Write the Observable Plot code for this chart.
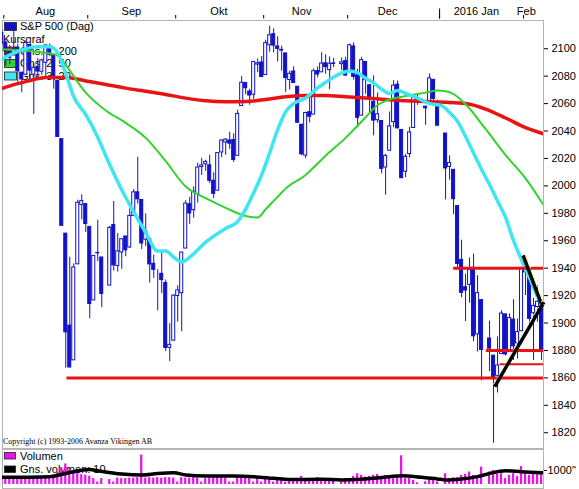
<!DOCTYPE html>
<html><head><meta charset="utf-8">
<script src="https://cdn.jsdelivr.net/npm/d3@7"></script>
<script src="https://cdn.jsdelivr.net/npm/@observablehq/plot@0.6"></script>
<style>
body{margin:0;background:#fff;}
#root{position:relative;width:579px;height:489px;overflow:hidden;background:#fff;}
#root svg{position:absolute;left:0;}
</style></head><body><div id="root"></div>
<script>
// ---- S&P 500 daily candles ----
const dates = [
"2015-07-31",
"2015-08-03","2015-08-04","2015-08-05","2015-08-06","2015-08-07",
"2015-08-10","2015-08-11","2015-08-12","2015-08-13","2015-08-14",
"2015-08-17","2015-08-18","2015-08-19","2015-08-20","2015-08-21",
"2015-08-24","2015-08-25","2015-08-26","2015-08-27","2015-08-28",
"2015-08-31","2015-09-01","2015-09-02","2015-09-03","2015-09-04",
"2015-09-08","2015-09-09","2015-09-10","2015-09-11",
"2015-09-14","2015-09-15","2015-09-16","2015-09-17","2015-09-18",
"2015-09-21","2015-09-22","2015-09-23","2015-09-24","2015-09-25",
"2015-09-28","2015-09-29","2015-09-30","2015-10-01","2015-10-02",
"2015-10-05","2015-10-06","2015-10-07","2015-10-08","2015-10-09",
"2015-10-12","2015-10-13","2015-10-14","2015-10-15","2015-10-16",
"2015-10-19","2015-10-20","2015-10-21","2015-10-22","2015-10-23",
"2015-10-26","2015-10-27","2015-10-28","2015-10-29","2015-10-30",
"2015-11-02","2015-11-03","2015-11-04","2015-11-05","2015-11-06",
"2015-11-09","2015-11-10","2015-11-11","2015-11-12","2015-11-13",
"2015-11-16","2015-11-17","2015-11-18","2015-11-19","2015-11-20",
"2015-11-23","2015-11-24","2015-11-25","2015-11-27",
"2015-11-30","2015-12-01","2015-12-02","2015-12-03","2015-12-04",
"2015-12-07","2015-12-08","2015-12-09","2015-12-10","2015-12-11",
"2015-12-14","2015-12-15","2015-12-16","2015-12-17","2015-12-18",
"2015-12-21","2015-12-22","2015-12-23","2015-12-24",
"2015-12-28","2015-12-29","2015-12-30","2015-12-31",
"2016-01-04","2016-01-05","2016-01-06","2016-01-07","2016-01-08",
"2016-01-11","2016-01-12","2016-01-13","2016-01-14","2016-01-15",
"2016-01-19","2016-01-20","2016-01-21","2016-01-22",
"2016-01-25","2016-01-26","2016-01-27","2016-01-28","2016-01-29",
"2016-02-01","2016-02-02","2016-02-03","2016-02-04","2016-02-05"];

const open = [
2111.6,
2104.5,2097.7,2095.3,2100.8,2082.6,
2081.0,2102.7,2081.1,2086.2,2083.2,
2089.7,2102.0,2095.7,2076.6,2034.1,
1965.2,1898.1,1872.8,1942.8,1986.1,
1986.7,1970.1,1916.5,1950.8,1947.8,
1927.3,1971.5,1941.6,1951.5,
1963.1,1955.1,1978.0,1995.3,1989.7,
1960.8,1961.4,1943.2,1932.2,1935.9,
1929.2,1881.9,1887.1,1919.7,1921.8,
1954.3,1986.6,1982.3,1994.0,2013.7,
2015.7,2015.0,2003.7,1996.5,2024.4,
2031.7,2033.1,2033.5,2021.9,2058.2,
2075.1,2068.8,2066.5,2088.4,2090.0,
2080.8,2102.6,2110.6,2101.7,2098.6,
2096.6,2077.2,2083.4,2072.3,2044.6,
2022.1,2053.7,2052.0,2083.7,2082.8,
2089.4,2084.4,2089.3,2088.8,
2091.0,2082.9,2101.7,2080.7,2051.2,
2090.4,2073.4,2061.2,2047.9,2047.3,
2013.4,2025.6,2046.5,2073.8,2040.8,
2010.3,2023.2,2042.2,2063.5,
2057.8,2060.5,2077.3,2060.6,
2038.2,2013.8,2011.7,1985.3,1946.0,
1926.1,1927.8,1940.3,1891.7,1916.7,
1888.7,1876.2,1861.5,1877.4,
1906.3,1878.8,1902.5,1885.2,1894.0,
1936.9,1935.3,1907.1,1911.7,1913.1];

const high = [
2114.2,
2105.7,2102.5,2112.7,2103.3,2082.6,
2105.4,2102.7,2089.1,2092.9,2092.5,
2102.9,2103.5,2096.2,2076.6,2034.1,
1965.2,1948.0,1943.1,1989.6,1993.5,
1986.7,1970.1,1948.9,1975.0,1947.8,
1970.4,1988.6,1965.3,1961.1,
1963.1,1983.2,1997.3,2020.9,1989.7,
1979.6,1961.4,1949.5,1938.9,1952.9,
1931.4,1899.5,1920.5,1927.2,1951.4,
1989.2,1991.6,1999.3,2016.5,2020.1,
2018.7,2022.3,2009.6,2024.2,2033.5,
2034.5,2039.1,2038.0,2055.2,2079.7,
2075.1,2070.4,2090.4,2092.5,2094.3,
2106.2,2116.5,2114.6,2108.8,2101.9,
2096.6,2083.7,2086.9,2072.3,2044.6,
2053.2,2066.7,2085.3,2086.7,2097.1,
2095.6,2094.1,2093.0,2093.3,
2093.8,2103.4,2104.3,2085.0,2093.8,
2090.4,2073.9,2080.3,2067.7,2047.3,
2022.9,2053.9,2076.7,2076.4,2040.8,
2022.9,2042.7,2064.7,2067.4,
2057.8,2081.6,2077.3,2062.5,
2038.2,2021.9,2011.7,1985.3,1960.4,
1935.7,1947.4,1950.3,1934.5,1916.7,
1901.4,1876.2,1889.9,1908.9,
1906.3,1906.7,1917.0,1903.0,1940.2,
1947.2,1935.3,1918.0,1927.4,1913.1];

const low = [
2102.1,
2087.3,2088.6,2095.3,2075.5,2067.9,
2081.0,2076.5,2052.1,2078.3,2080.6,
2079.3,2094.1,2070.5,2035.7,1970.9,
1867.0,1867.1,1872.8,1942.8,1975.2,
1966.0,1903.1,1916.5,1944.7,1911.2,
1927.3,1937.9,1937.2,1939.2,
1948.3,1954.3,1977.9,1986.7,1953.5,
1955.8,1929.2,1932.6,1908.9,1921.5,
1879.2,1871.9,1887.1,1900.7,1893.7,
1954.3,1972.0,1976.4,1987.5,2007.6,
2010.6,2001.8,1990.7,1996.5,2020.5,
2022.3,2026.6,2017.2,2021.9,2058.2,
2066.5,2058.8,2063.1,2082.6,2079.3,
2080.8,2097.5,2097.0,2090.4,2083.7,
2068.2,2069.9,2074.9,2045.7,2022.0,
2019.9,2045.9,2052.0,2078.8,2082.8,
2081.4,2070.3,2086.3,2084.1,
2080.4,2082.9,2077.1,2042.4,2051.2,
2066.8,2052.3,2036.5,2045.7,2008.8,
1993.3,2025.6,2042.4,2041.7,2005.3,
2005.9,2020.5,2042.2,2058.7,
2044.2,2060.5,2062.0,2043.6,
1989.7,2004.2,1979.1,1938.8,1918.5,
1901.1,1914.4,1886.4,1878.9,1857.8,
1864.6,1812.3,1849.0,1877.4,
1876.0,1878.8,1872.7,1873.7,1894.0,
1920.0,1897.3,1872.7,1900.5,1872.7];

const close = [
2103.8,
2098.0,2093.3,2099.8,2083.6,2077.6,
2104.2,2084.1,2086.1,2083.4,2091.5,
2102.4,2096.9,2079.6,2035.7,1970.9,
1893.2,1867.6,1940.5,1987.7,1988.9,
1972.2,1913.9,1948.9,1951.1,1921.2,
1969.4,1942.0,1952.3,1961.1,
1953.0,1978.1,1995.3,1990.2,1958.0,
1967.0,1942.7,1938.8,1932.2,1931.3,
1881.8,1884.1,1920.0,1923.8,1951.4,
1987.1,1979.9,1995.8,2013.4,2014.9,
2017.5,2003.7,1994.2,2023.9,2033.1,
2033.7,2030.8,2018.9,2052.5,2075.2,
2071.2,2065.9,2090.4,2089.4,2079.4,
2104.1,2109.8,2102.3,2099.9,2099.2,
2078.6,2081.7,2075.0,2046.0,2023.0,
2053.2,2050.4,2083.6,2081.2,2089.2,
2086.6,2089.1,2088.9,2090.1,
2080.4,2102.6,2079.5,2049.6,2091.7,
2077.1,2063.6,2047.6,2052.2,2012.4,
2021.9,2043.4,2073.1,2041.9,2005.6,
2021.2,2039.0,2064.3,2061.0,
2056.5,2078.4,2063.4,2043.9,
2012.7,2016.7,1990.3,1943.1,1922.0,
1923.7,1938.7,1890.3,1921.8,1880.3,
1881.3,1859.3,1869.0,1906.9,
1877.1,1903.6,1883.0,1893.4,1940.2,
1939.4,1903.0,1912.5,1915.5,1880.1];

const volume = [
420,
420,455,455,455,420,
420,455,490,420,420,
420,420,560,875,1190,
1470,1120,980,875,700,
665,595,420,175,420,
350,175,455,420,
420,455,455,490,2100,
455,490,455,490,455,
490,490,455,175,490,
455,455,490,455,175,
420,455,490,490,490,
455,175,175,490,490,
420,455,175,455,175,
455,455,175,420,455,
175,300,300,420,580,
420,350,300,490,350,
300,350,260,175,
420,350,580,770,650,
540,580,650,720,540,
650,540,420,540,2050,
420,420,300,120,
190,300,350,190,
770,420,490,490,650,
720,890,650,630,1240,
890,1000,720,770,
420,650,770,580,1280,
770,650,820,820,820];

// ---- moving averages ----
const ma200Slots = [-1.5,0,5,10,15,20,25,30,35,40,45,50,55,60,65,70,75,80,85,90,95,100,105,110,115,120,125,130,134.5];
const ma200 = [2070.5,2072,2076,2079,2079,2076.5,2074,2071.3,2069,2066.7,2064,2062,2061.3,2061.5,2063,2065,2066,2066,2065,2064,2063,2062,2061.5,2061,2060,2056,2049.5,2042.5,2038];
const ma50Slots = [-1.5,0,5,10,13,15,20,25,30,35,40,45,50,55,60,63,65,68,70,75,80,85,90,93,95,100,105,108,110,112,115,120,125,130,134.5];
const ma50 = [2099.5,2099.5,2098.5,2097,2095,2088,2068,2055,2046,2035,2018,1999.5,1991,1984,1978,1977,1983,1992,1998,2008,2022,2035,2050,2059,2062,2065.5,2068,2069.5,2069,2067,2059.5,2041.5,2022.5,2005.5,1986];
const ma20Slots = [-1.5,0,3,5,8,11,13,15,17,20,23,25,28,30,33,35,38,40,42,44,46,50,55,58,60,62,64,66,68,70,72,75,78,80,83,86,88,90,92,94,96,98,100,103,106,109,111,113,115,117,119,121,123,125,127,129,131,133,134.5];
const ma20 = [2091,2094,2098,2100,2101.5,2101.5,2097,2082,2065,2052,2035.5,2022,2003,1991.5,1976,1966,1952.5,1952.5,1948,1944.5,1948,1959,1969,1974,1983,1995,2008,2024,2041,2054,2060,2064,2071.5,2075.5,2081,2083.7,2082.5,2078.5,2075,2070.5,2067.3,2069.5,2067.5,2064,2060,2058.5,2053.5,2047,2036,2024,2012,2001,1989,1977,1960,1946,1933,1919,1913];

// ---- volume average (10) ----
const avgSlots = [-1.5,11,15,21,23,29,34,38,42,45,50,57,62,67,71,79,84,92,96,99,104,108,110,114,118,121,125,129,134.5];
const avgVol = [511,560,791,1071,980,749,679,791,840,679,609,609,560,441,350,371,329,441,560,630,511,399,329,399,560,791,980,910,840];

// ---- drawn support lines and trend lines ----
const supportLevels = [1860, 1940, 1880];
const supportStart = [15.3, 112.0, 120.2];
const minorLevels = [1870];
const minorStart = [123.6];
const levelEnd = 134.5;
const riseX1 = [122.3], riseY1 = [1853.7], riseX2 = [134.6], riseY2 = [1915.2];
const fallX1 = [129.4], fallY1 = [1949.3], fallX2 = [134.1], fallY2 = [1912.8];

// ---- axes ----
const yTicks = [1820,1840,1860,1880,1900,1920,1940,1960,1980,2000,2020,2040,2060,2080,2100];
const monthStarts = ["2015-08-03","2015-09-01","2015-10-01","2015-11-02","2015-12-01","2016-01-01","2016-02-01"];
const monthNames = ["Aug","Sep","Okt","Nov","Dec","2016 Jan","Feb"];
const monthLabelPos = [9.9, 31.4, 53.3, 74.0, 95.5, 117.7, 130.2];
const yearStart = "2016-01-01";

// ---- helpers ----
const base = Date.UTC(2015,7,3);
function slotOf(s){
  const [y,m,d] = s.split("-").map(Number);
  const days = Math.round((Date.UTC(y,m-1,d) - base)/864e5);
  const w = Math.floor(days/7);
  return w*5 + (days - w*7);
}
const rows = dates.map((d,i)=>({slot: slotOf(d), open: open[i], high: high[i], low: low[i], close: close[i], volume: volume[i]}));
const pairs = (xs, ys) => xs.map((x,i)=>({slot:x, v:ys[i]}));
const segs = (x1, y1, x2, y2) => x1.map((x,i)=>({x1:x, y1:y1[i], x2:x2[i], y2:y2[i]}));

const BLUE = "#1212c8", RED = "#e81414", GREEN = "#33d22e", CYAN = "#3ee6f2", MAG = "#e614e6", GRID = "#b4b4b4", YEL = "#f2ee5a";
const FONT = "'Liberation Sans', Arial, sans-serif";
const xDomain = [-0.825, 134.49];
const monthTicks = monthStarts.map(s => slotOf(s) - 0.5);
const yearTick = [slotOf(yearStart) - 0.5];
const rise = segs(riseX1, riseY1, riseX2, riseY2);
const fall = segs(fallX1, fallY1, fallX2, fallY2);

const price = Plot.plot({
  width: 579, height: 449,
  marginTop: 20, marginBottom: 1, marginLeft: 2, marginRight: 36,
  x: {type: "linear", domain: xDomain, axis: null},
  y: {domain: [1808.5, 2120.6], axis: null},
  style: {background: "transparent", fontFamily: FONT, fontSize: "11px", color: "#000", overflow: "visible"},
  marks: [
    Plot.frame({stroke: GRID}),
    Plot.ruleX(rows, {x: "slot", y1: "low", y2: "high", stroke: BLUE, strokeWidth: 1, clip: true}),
    Plot.rect(rows, {x1: d => d.slot - 0.38, x2: d => d.slot + 0.38, y1: "open", y2: "close",
      fill: d => d.close >= d.open ? "#ffffff" : BLUE, stroke: BLUE, strokeWidth: 1, clip: true}),
    Plot.line(pairs(ma200Slots, ma200), {x: "slot", y: "v", stroke: RED, strokeWidth: 3.5, curve: "monotone-x", clip: true}),
    Plot.line(pairs(ma50Slots, ma50), {x: "slot", y: "v", stroke: GREEN, strokeWidth: 2, curve: "monotone-x", clip: true}),
    Plot.line(pairs(ma20Slots, ma20), {x: "slot", y: "v", stroke: CYAN, strokeWidth: 3.5, curve: "monotone-x", clip: true}),
    Plot.ruleY(supportLevels, {y: d => d, x1: (d,i) => supportStart[i], x2: levelEnd, stroke: RED, strokeWidth: 3}),
    Plot.ruleY(minorLevels, {y: d => d, x1: (d,i) => minorStart[i], x2: levelEnd, stroke: RED, strokeWidth: 2}),
    Plot.link(rise, {x1: "x1", y1: "y1", x2: "x2", y2: "y2", stroke: "#000", strokeWidth: 3.5}),
    Plot.link(fall, {x1: "x1", y1: "y1", x2: "x2", y2: "y2", stroke: "#000", strokeWidth: 3.5}),
    Plot.link(rise, {x1: "x1", y1: "y1", x2: "x2", y2: "y2", stroke: YEL, strokeWidth: 1, strokeDasharray: "2,2", dx: -2, dy: -1.5}),
    Plot.link(fall, {x1: "x1", y1: "y1", x2: "x2", y2: "y2", stroke: YEL, strokeWidth: 1, strokeDasharray: "2,2", dx: 2.5, dy: 0}),
    Plot.axisY({anchor: "right", ticks: yTicks, tickSize: 4, tickPadding: 4, tickFormat: d => String(d), label: null, fontSize: 11}),
    Plot.axisX({anchor: "top", ticks: monthTicks, tickSize: 3.5, tickFormat: () => "", label: null, dy: -2.5}),
    Plot.axisX({anchor: "top", ticks: yearTick, tickSize: 10, tickFormat: () => "", label: null, dy: -2.5}),
    Plot.text(monthLabelPos, {x: d => d, text: (d,i) => monthNames[i], frameAnchor: "top", dy: -13, fontSize: 11})
  ]
});
price.style.top = "0px";

const vol = Plot.plot({
  width: 579, height: 41,
  marginTop: 1, marginBottom: 5, marginLeft: 2, marginRight: 36,
  x: {type: "linear", domain: xDomain, axis: null},
  y: {domain: [0, 2500], axis: null},
  style: {background: "transparent", fontFamily: FONT, fontSize: "11px", color: "#000", overflow: "visible"},
  marks: [
    Plot.frame({stroke: GRID, insetBottom: -4}),
    Plot.rect(rows, {x1: d => d.slot - 0.28, x2: d => d.slot + 0.28, y1: d => 0, y2: "volume", fill: MAG, clip: true}),
    Plot.line(pairs(avgSlots, avgVol), {x: "slot", y: "v", stroke: "#000", strokeWidth: 3.5, curve: "monotone-x", clip: true}),
    Plot.axisY({anchor: "right", ticks: [1000], tickSize: 3, tickPadding: 1, tickFormat: d => String(d) + '"', label: null, fontSize: 11})
  ]
});
vol.style.top = "448px";

// ---- legends (drawn beneath the marks) ----
function legend(svg, boxes, texts){
  const g = d3.create("svg:g").attr("text-anchor", "start");
  for (const b of boxes) g.append("rect").attr("x", b[0]).attr("y", b[1]).attr("width", b[2]).attr("height", b[3])
    .attr("fill", b[4]).attr("stroke", "#222").attr("stroke-width", 0.8);
  for (const t of texts) g.append("text").attr("x", t[0]).attr("y", t[1]).attr("dy", "0.35em")
    .attr("text-anchor", "start")
    .attr("font-family", t[3] || FONT).attr("font-size", t[4] || 11).attr("fill", "#000").text(t[2]);
  svg.insertBefore(g.node(), svg.querySelector("g"));
}
legend(price,
  [[4.5,22.5,12,8,BLUE],[4.5,47,12,8,RED],[4.5,59.5,12,8,GREEN],[4.5,72,12,8,CYAN]],
  [[20,26.5,"S&P 500 (Dag)"],[3,39,"Kursgraf"],[20,51,"Gns. 1: 200"],[20,63.5,"Gns. 2: 50"],[20,76,"Gns. 3: 20"],
   [3,441.5,"Copyright (c) 1993-2006 Avanza Vikingen AB","'Liberation Serif', 'Times New Roman', serif",8]]);
legend(vol,
  [[4.5,4.5,11,6.5,MAG],[4.5,18,11,6.5,"#000"]],
  [[20,8,"Volumen"],[20,21,"Gns. volymen: 10"]]);

document.getElementById("root").append(price, vol);
</script></body></html>
